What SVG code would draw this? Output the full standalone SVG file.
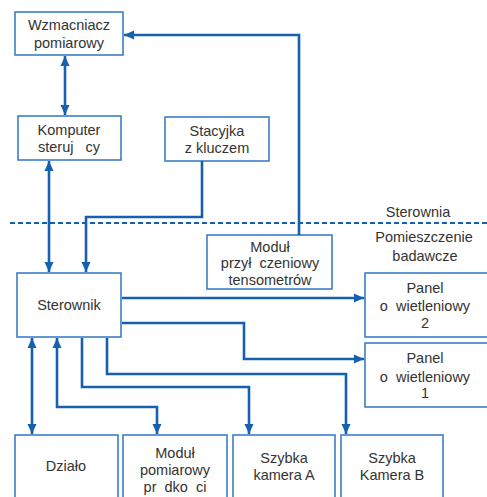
<svg xmlns="http://www.w3.org/2000/svg" width="487" height="497" viewBox="0 0 487 497">
<style>
.box{fill:#fff;stroke:#3b7dc4;stroke-width:1.6}
.t{font-family:"Liberation Sans",Arial,sans-serif;font-size:14.5px;fill:#333;text-anchor:middle}
.c{fill:none;stroke:#1560b0;stroke-width:2.6}
.d{fill:none;stroke:#1560b0;stroke-width:1.8;stroke-dasharray:5 3}
</style>
<defs>
<marker id="a" markerUnits="userSpaceOnUse" markerWidth="10" markerHeight="10" refX="10" refY="5" orient="auto-start-reverse" viewBox="0 0 10 10">
<path d="M0,0.5 L10,5 L0,9.5 z" fill="#1560b0"/>
</marker>
</defs>
<rect width="487" height="497" fill="#fff"/>
<line class="d" x1="10" y1="223" x2="487" y2="223"/>
<text class="t" x="418" y="217">Sterownia</text>
<text class="t" x="424" y="242">Pomieszczenie</text>
<text class="t" x="425" y="261">badawcze</text>
<g id="wzmacniacz"><rect class="box" x="15" y="12" width="108" height="43"/><text class="t" x="69" y="30">Wzmacniacz</text><text class="t" x="69" y="48">pomiarowy</text></g>
<g id="komputer"><rect class="box" x="18" y="116" width="103" height="44"/><text class="t" x="69" y="135">Komputer</text><text class="t" x="69" y="152" xml:space="preserve">steruj   cy</text></g>
<g id="stacyjka"><rect class="box" x="165" y="117" width="104" height="44"/><text class="t" x="217" y="136">Stacyjka</text><text class="t" x="217" y="153">z kluczem</text></g>
<g id="modul-przyl"><rect class="box" x="207" y="235" width="125" height="54"/><text class="t" x="270" y="252">Moduł</text><text class="t" x="270" y="268" xml:space="preserve">przył  czeniowy</text><text class="t" x="270" y="285">tensometrów</text></g>
<g id="sterownik"><rect class="box" x="17" y="273" width="104" height="64"/><text class="t" x="69" y="310">Sterownik</text></g>
<g id="panel2"><rect class="box" x="365" y="273" width="125" height="64"/><text class="t" x="425" y="293">Panel</text><text class="t" x="425" y="311" xml:space="preserve">o  wietleniowy</text><text class="t" x="425" y="328">2</text></g>
<g id="panel1"><rect class="box" x="365" y="343" width="125" height="64"/><text class="t" x="425" y="363">Panel</text><text class="t" x="425" y="382" xml:space="preserve">o  wietleniowy</text><text class="t" x="425" y="398">1</text></g>
<g id="dzialo"><rect class="box" x="15" y="435" width="103" height="70"/><text class="t" x="66" y="471">Działo</text></g>
<g id="modul-pom"><rect class="box" x="123" y="435" width="104" height="70"/><text class="t" x="175" y="458">Moduł</text><text class="t" x="175" y="475">pomiarowy</text><text class="t" x="175" y="492" xml:space="preserve">pr  dko  ci</text></g>
<g id="kameraA"><rect class="box" x="233" y="435" width="102" height="70"/><text class="t" x="284" y="463">Szybka</text><text class="t" x="284" y="480">kamera A</text></g>
<g id="kameraB"><rect class="box" x="341" y="435" width="102" height="70"/><text class="t" x="392" y="463">Szybka</text><text class="t" x="392" y="480">Kamera B</text></g>
<g id="connectors">
<path class="c" d="M65,56 V115" marker-start="url(#a)" marker-end="url(#a)"/>
<path class="c" d="M299,235 V35 H124" marker-end="url(#a)"/>
<path class="c" d="M49,161 V272" marker-start="url(#a)" marker-end="url(#a)"/>
<path class="c" d="M202,161 V217 H86 V272" marker-end="url(#a)"/>
<path class="c" d="M122,298 H364" marker-end="url(#a)"/>
<path class="c" d="M122,323 H244 V359 H364" marker-end="url(#a)"/>
<path class="c" d="M107,338 V374 H346 V434" marker-end="url(#a)"/>
<path class="c" d="M82,338 V387 H249 V434" marker-end="url(#a)"/>
<path class="c" d="M32,338 V434" marker-start="url(#a)" marker-end="url(#a)"/>
<path class="c" d="M57,338 V407 H157 V434" marker-start="url(#a)" marker-end="url(#a)"/>
</g>
</svg>
